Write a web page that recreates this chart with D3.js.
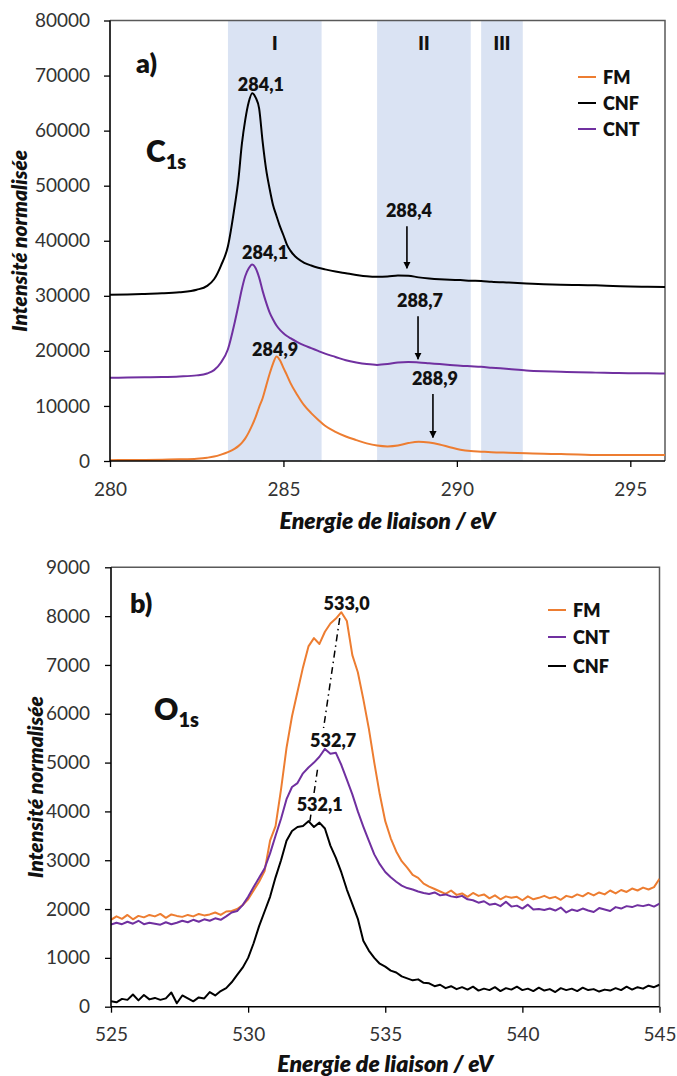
<!DOCTYPE html>
<html>
<head>
<meta charset="utf-8">
<script src="https://cdnjs.cloudflare.com/ajax/libs/d3/7.8.5/d3.min.js"></script>
<style>
  html, body { margin: 0; padding: 0; background: #fff; }
  svg { display: block; }
  text { font-family: Lato, "Open Sans", "Liberation Sans", sans-serif; }
</style>
</head>
<body>
<div id="chart"></div>
<script>
// ---------------- DATA : panel a) C1s ----------------
const energyA = [280, 280.5, 281, 281.5, 282, 282.5, 282.8, 283.0, 283.2, 283.4, 283.6, 283.7, 283.8, 283.9, 284.0, 284.1, 284.2, 284.3, 284.4, 284.5, 284.6, 284.7, 284.8, 284.9, 285.0, 285.1, 285.2, 285.4, 285.6, 285.8, 286.0, 286.2, 286.5, 286.8, 287.1, 287.4, 287.7, 288.0, 288.3, 288.6, 288.9, 289.2, 289.5, 289.8, 290.1, 290.4, 290.7, 291.0, 291.5, 292.0, 292.5, 293.0, 293.5, 294.0, 294.5, 295.0, 295.5, 296.0];
const cnfA = [30200, 30250, 30350, 30450, 30650, 31100, 31800, 33000, 35500, 39000, 46500, 51000, 57500, 62000, 65200, 66800, 66000, 64000, 58000, 53000, 49500, 46500, 44500, 42600, 41000, 39300, 38200, 36800, 36000, 35500, 35100, 34800, 34400, 34100, 33800, 33550, 33450, 33500, 33700, 33650, 33350, 33150, 33000, 32900, 32850, 32750, 32700, 32550, 32400, 32250, 32100, 32000, 31950, 31900, 31800, 31700, 31650, 31600];
const cntA = [15100, 15150, 15200, 15250, 15350, 15550, 15900, 16500, 17900, 20300, 25300, 28200, 31200, 33600, 35000, 35700, 35000, 33300, 30900, 28800, 27000, 25700, 24600, 23800, 23200, 22700, 22300, 21600, 21000, 20500, 20000, 19500, 18900, 18300, 17900, 17600, 17450, 17600, 17900, 18000, 17900, 17750, 17600, 17450, 17300, 17200, 17100, 16950, 16700, 16450, 16300, 16200, 16100, 16050, 16000, 15950, 15950, 15900];
const fmA = [150, 170, 190, 230, 300, 420, 600, 800, 1150, 1600, 2250, 2700, 3300, 4100, 5200, 6500, 8000, 9800, 11400, 13600, 15800, 17700, 19000, 18300, 16900, 15600, 14200, 12000, 10100, 8700, 7500, 6400, 5300, 4450, 3800, 3200, 2800, 2650, 2800, 3250, 3500, 3350, 3000, 2500, 2050, 1800, 1700, 1600, 1500, 1400, 1300, 1250, 1200, 1100, 1100, 1100, 1080, 1100];
const bandsA = [[283.4, 286.1], [287.7, 290.4], [290.7, 291.9]];
const bandLabelsA = ["I", "II", "III"];
const xTicksA = [280, 285, 290, 295];
const yTicksA = [0, 10000, 20000, 30000, 40000, 50000, 60000, 70000, 80000];
const seriesNamesA = ["FM", "CNF", "CNT"];
// peak labels: [text, energy, intensity]
const peakLabelsA = [["284,1", 284.35, 67000], ["284,1", 284.47, 36500], ["284,9", 284.76, 18900]];
// arrow annotations: [text, energy, arrow top intensity, arrow tip intensity]
const arrowsA = [["288,4", 288.56, 42650, 35000], ["288,7", 288.88, 26300, 18500], ["288,9", 289.31, 12150, 4250]];

// ---------------- DATA : panel b) O1s ----------------
const energyB = [525.0, 525.2, 525.4, 525.6, 525.8, 526.0, 526.2, 526.4, 526.6, 526.8, 527.0, 527.2, 527.4, 527.6, 527.8, 528.0, 528.2, 528.4, 528.6, 528.8, 529.0, 529.2, 529.4, 529.6, 529.8, 530.0, 530.2, 530.4, 530.6, 530.8, 531.0, 531.2, 531.4, 531.6, 531.8, 532.0, 532.2, 532.4, 532.6, 532.8, 533.0, 533.2, 533.4, 533.6, 533.8, 534.0, 534.2, 534.4, 534.6, 534.8, 535.0, 535.2, 535.4, 535.6, 535.8, 536.0, 536.2, 536.4, 536.6, 536.8, 537.0, 537.2, 537.4, 537.6, 537.8, 538.0, 538.2, 538.4, 538.6, 538.8, 539.0, 539.2, 539.4, 539.6, 539.8, 540.0, 540.2, 540.4, 540.6, 540.8, 541.0, 541.2, 541.4, 541.6, 541.8, 542.0, 542.2, 542.4, 542.6, 542.8, 543.0, 543.2, 543.4, 543.6, 543.8, 544.0, 544.2, 544.4, 544.6, 544.8, 545.0];
const fmB = [1780, 1850, 1800, 1880, 1790, 1860, 1830, 1880, 1850, 1900, 1820, 1890, 1860, 1840, 1880, 1850, 1900, 1870, 1890, 1930, 1880, 1950, 1960, 2000, 2080, 2200, 2380, 2560, 2780, 3400, 3700, 4450, 5300, 5950, 6450, 6950, 7380, 7550, 7430, 7680, 7850, 7950, 8080, 7900, 7200, 6850, 6300, 5700, 5000, 4350, 3800, 3450, 3180, 2980, 2850, 2700, 2640, 2520, 2460, 2410, 2360, 2310, 2380, 2290, 2320, 2250, 2330, 2270, 2300, 2220, 2280, 2200, 2260, 2230, 2250, 2180, 2260, 2200, 2230, 2270, 2220, 2250, 2190, 2270, 2240, 2300, 2260, 2330, 2280, 2340, 2300, 2380, 2320, 2390, 2350, 2420, 2380, 2440, 2400, 2450, 2620];
const cntB = [1680, 1720, 1690, 1740, 1700, 1760, 1690, 1720, 1700, 1680, 1730, 1690, 1720, 1760, 1730, 1780, 1740, 1790, 1760, 1810, 1780, 1850, 1930, 1960, 2080, 2250, 2450, 2640, 2830, 3140, 3500, 3850, 4250, 4500, 4580, 4780, 4900, 5000, 5120, 5280, 5180, 5200, 4950, 4650, 4350, 4000, 3690, 3400, 3120, 2920, 2760, 2650, 2560, 2480, 2430, 2400, 2360, 2330, 2310, 2340, 2280, 2300, 2260, 2240, 2270, 2200, 2180, 2130, 2160, 2090, 2110, 2060, 2150, 2050, 2070, 2010, 2090, 1990, 2000, 1980, 2010, 1970, 2030, 1930, 1990, 1960, 2010, 1970, 1940, 2020, 1990, 1960, 2040, 2010, 2060, 2040, 2080, 2060, 2090, 2050, 2110];
const cnfB = [110, 90, 160, 140, 250, 130, 240, 150, 180, 140, 170, 290, 70, 230, 170, 110, 190, 170, 300, 230, 320, 380, 500, 650, 800, 1000, 1300, 1650, 1950, 2250, 2650, 3000, 3400, 3600, 3680, 3700, 3800, 3680, 3770, 3650, 3300, 3050, 2750, 2400, 2100, 1800, 1350, 1150, 1000, 880, 820, 740, 700, 620, 580, 540, 560, 490, 480, 420, 450, 380, 420, 360, 400, 350, 410, 330, 370, 340, 400, 320, 380, 350, 410, 340, 370, 320, 390, 330, 360, 300, 380, 340, 370, 320, 390, 340, 360, 310, 350, 330, 380, 340, 410, 350, 400, 370, 430, 400, 450];
const xTicksB = [525, 530, 535, 540, 545];
const yTicksB = [0, 1000, 2000, 3000, 4000, 5000, 6000, 7000, 8000, 9000];
const seriesNamesB = ["FM", "CNT", "CNF"];
const peakLabelsB = [["533,0", 533.59, 8110], ["532,7", 533.10, 5290], ["532,1", 532.61, 3990]];
// dash-dot guide line through the peaks: [energy, intensity] top and bottom
const guideB = [[533.34, 7960], [532.25, 3790]];

// ---------------- STYLE ----------------
const colors = { FM: "#ED7D31", CNF: "#000000", CNT: "#7030A0" };
const W = 677, H = 1076;
const BOLD = 800;

const svg = d3.select("#chart").append("svg").attr("width", W).attr("height", H);

function drawPanel(cfg) {
  const { x, y, g } = cfg;
  const [x0, x1] = x.range();
  const [yb, yt] = y.range();

  const clipId = "clip-" + cfg.id;
  svg.append("clipPath").attr("id", clipId).append("rect")
    .attr("x", x0).attr("y", yt).attr("width", x1 - x0).attr("height", yb - yt);

  if (cfg.bands) {
    g.selectAll("rect.band").data(cfg.bands).join("rect").attr("class", "band")
      .attr("x", d => x(d[0])).attr("width", d => x(d[1]) - x(d[0]))
      .attr("y", yt).attr("height", yb - yt).attr("fill", "#DAE3F3");
    g.selectAll("text.bandlab").data(cfg.bands).join("text").attr("class", "bandlab")
      .attr("x", d => (x(d[0]) + x(d[1])) / 2).attr("y", yt + 29)
      .attr("text-anchor", "middle").attr("font-size", 18).attr("font-weight", BOLD)
      .attr("fill", "#111").text((d, i) => cfg.bandLabels[i]);
  }

  g.append("path").attr("d", `M${x0},${yt}H${x1}V${yb}`)
    .attr("fill", "none").attr("stroke", "#595959").attr("stroke-width", 1.5);

  const line = d3.line().x(d => x(d[0])).y(d => y(d[1])).curve(cfg.curve);
  const sg = g.append("g").attr("clip-path", `url(#${clipId})`);
  cfg.series.forEach(s => {
    sg.append("path").datum(cfg.energy.map((e, i) => [e, s.values[i]]))
      .attr("d", line).attr("fill", "none").attr("stroke", colors[s.name])
      .attr("stroke-width", 2).attr("stroke-linejoin", "round");
  });

  const ya = g.append("g").attr("transform", `translate(${x0},0)`)
    .call(d3.axisLeft(y).tickValues(cfg.yTicks).tickSize(6).tickPadding(cfg.yPad).tickFormat(d3.format("d")));
  const xa = g.append("g").attr("transform", `translate(0,${yb})`)
    .call(d3.axisBottom(x).tickValues(cfg.xTicks).tickSize(6).tickPadding(cfg.xPad).tickFormat(d3.format("d")));
  [ya, xa].forEach(a => {
    a.select(".domain").attr("stroke", "#000").attr("stroke-width", 1.6);
    a.selectAll(".tick line").attr("stroke", "#000").attr("stroke-width", 1.3);
    a.selectAll(".tick text").attr("font-size", 19).attr("fill", "#333")
      .attr("font-family", "Lato, 'Open Sans', sans-serif");
  });
  ya.select(".domain").attr("d", `M0,${yb}V${yt}`);
  xa.select(".domain").attr("d", `M${x0},0H${x1}`);

  g.append("text").attr("x", (x0 + x1) / 2).attr("y", cfg.xTitleY)
    .attr("text-anchor", "middle").attr("font-size", 23).attr("font-weight", BOLD)
    .attr("font-style", "italic").attr("fill", "#111").text("Energie de liaison / eV");
  g.append("text").attr("transform", `translate(${cfg.yTitleX},${(yb + yt) / 2}) rotate(-90)`)
    .attr("text-anchor", "middle").attr("font-size", 21).attr("font-weight", BOLD)
    .attr("font-style", "italic").attr("fill", "#111").text("Intensité normalisée");

  g.append("text").attr("x", cfg.letterPos[0]).attr("y", cfg.letterPos[1])
    .attr("font-size", 27).attr("font-weight", BOLD).attr("fill", "#111").text(cfg.letter);
  const el = g.append("text").attr("x", cfg.elemPos[0]).attr("y", cfg.elemPos[1])
    .attr("font-weight", BOLD).attr("fill", "#111");
  el.append("tspan").attr("font-size", 30).text(cfg.elem);
  el.append("tspan").attr("font-size", 20).attr("dy", 7).text("1s");

  const lg = g.append("g");
  cfg.legendNames.forEach((n, i) => {
    const ly = cfg.legendY[i];
    lg.append("line").attr("x1", cfg.legendX).attr("x2", cfg.legendX + 18)
      .attr("y1", ly).attr("y2", ly).attr("stroke", colors[n]).attr("stroke-width", 2);
    lg.append("text").attr("x", cfg.legendX + 25).attr("y", ly + 6.5)
      .attr("font-size", 18).attr("font-weight", BOLD).attr("fill", "#111").text(n);
  });

  g.selectAll("text.peak").data(cfg.peakLabels).join("text").attr("class", "peak")
    .attr("x", d => x(d[1])).attr("y", d => y(d[2]) - 1)
    .attr("text-anchor", "middle").attr("font-size", 18).attr("font-weight", BOLD)
    .attr("fill", "#111").text(d => d[0]);
}

svg.append("defs").append("marker").attr("id", "arrow")
  .attr("viewBox", "0 0 10 10").attr("refX", 9).attr("refY", 5)
  .attr("markerWidth", 4.5).attr("markerHeight", 4.5).attr("orient", "auto")
  .append("path").attr("d", "M0,0L10,5L0,10z").attr("fill", "#000");

// ---------------- PANEL A ----------------
const xA = d3.scaleLinear().domain([280, 296]).range([110, 665]);
const yA = d3.scaleLinear().domain([0, 80000]).range([461, 20.5]);
const gA = svg.append("g");
drawPanel({
  id: "a", x: xA, y: yA, g: gA, energy: energyA, curve: d3.curveMonotoneX,
  series: [{ name: "CNF", values: cnfA }, { name: "CNT", values: cntA }, { name: "FM", values: fmA }],
  bands: bandsA, bandLabels: bandLabelsA,
  xTicks: xTicksA, yTicks: yTicksA, yPad: 14, xPad: 16,
  xTitleY: 529, yTitleX: 27,
  letter: "a)", letterPos: [136, 73], elem: "C", elemPos: [146, 162],
  legendNames: seriesNamesA, legendX: 578, legendY: [77, 103, 129],
  peakLabels: peakLabelsA
});
arrowsA.forEach(a => {
  gA.append("line").attr("x1", xA(a[1])).attr("x2", xA(a[1]))
    .attr("y1", yA(a[2])).attr("y2", yA(a[3]))
    .attr("stroke", "#000").attr("stroke-width", 1.6).attr("marker-end", "url(#arrow)");
  gA.append("text").attr("x", xA(a[1]) + 2).attr("y", yA(a[2]) - 9)
    .attr("text-anchor", "middle").attr("font-size", 18).attr("font-weight", BOLD)
    .attr("fill", "#111").text(a[0]);
});

// ---------------- PANEL B ----------------
const xB = d3.scaleLinear().domain([525, 545]).range([111, 659.5]);
const yB = d3.scaleLinear().domain([0, 9000]).range([1006.7, 567.3]);
const gB = svg.append("g");
drawPanel({
  id: "b", x: xB, y: yB, g: gB, energy: energyB, curve: d3.curveLinear,
  series: [{ name: "FM", values: fmB }, { name: "CNT", values: cntB }, { name: "CNF", values: cnfB }],
  xTicks: xTicksB, yTicks: yTicksB, yPad: 15, xPad: 15,
  xTitleY: 1072, yTitleX: 43,
  letter: "b)", letterPos: [130, 613], elem: "O", elemPos: [154, 720],
  legendNames: seriesNamesB, legendX: 548, legendY: [610, 637, 666],
  peakLabels: peakLabelsB
});
const gx0 = xB(guideB[0][0]), gy0 = yB(guideB[0][1]);
const gx1 = xB(guideB[1][0]), gy1 = yB(guideB[1][1]);
[[0, 0.54], [0.745, 0.86], [0.965, 1]].forEach(([t0, t1]) => {
  gB.append("line")
    .attr("x1", gx0 + (gx1 - gx0) * t0).attr("y1", gy0 + (gy1 - gy0) * t0)
    .attr("x2", gx0 + (gx1 - gx0) * t1).attr("y2", gy0 + (gy1 - gy0) * t1)
    .attr("stroke", "#000").attr("stroke-width", 1.5).attr("stroke-dasharray", "7,4,1.5,4");
});
</script>
</body>
</html>
